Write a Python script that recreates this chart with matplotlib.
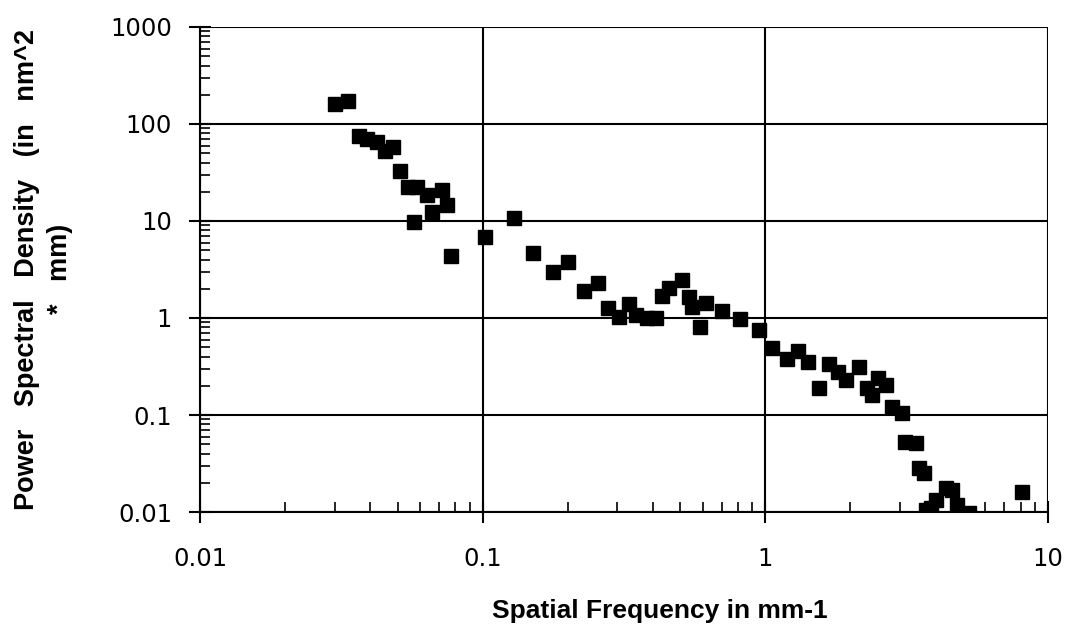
import matplotlib.pyplot as plt
from matplotlib.ticker import LogLocator, FixedLocator, NullFormatter

# spatial frequency (mm^-1) and PSD (nm^2 * mm)
freq = [0.0300, 0.0334, 0.0365, 0.0389, 0.0422, 0.0451, 0.0481, 0.0509,
        0.0543, 0.0585, 0.0634, 0.0716, 0.0746, 0.0661, 0.0570, 0.0771,
        0.1017, 0.129, 0.151, 0.177, 0.201, 0.229, 0.255, 0.277,
        0.303, 0.330, 0.350, 0.383, 0.412, 0.430, 0.458, 0.509,
        0.538, 0.552, 0.589, 0.619, 0.705, 0.817, 0.953, 1.06,
        1.19, 1.30, 1.42, 1.55, 1.68, 1.81, 1.93, 2.15,
        2.29, 2.39, 2.51, 2.68, 2.81, 3.05, 3.13, 3.42,
        3.50, 3.65, 4.02, 4.36, 4.58, 3.86, 3.71, 4.77,
        5.26, 8.09]
psd = [161, 173, 75, 70, 65, 53, 58, 32.7,
       22.4, 22.4, 18.5, 20.9, 14.6, 12.4, 9.8, 4.36,
       6.84, 10.7, 4.68, 2.98, 3.78, 1.90, 2.29, 1.27,
       1.02, 1.39, 1.07, 1.01, 1.01, 1.69, 2.04, 2.47,
       1.65, 1.30, 0.81, 1.43, 1.18, 0.977, 0.752, 0.491,
       0.378, 0.457, 0.352, 0.190, 0.336, 0.277, 0.230, 0.313,
       0.190, 0.161, 0.240, 0.204, 0.121, 0.105, 0.0527, 0.0514,
       0.0284, 0.0252, 0.0133, 0.0177, 0.0169, 0.0110, 0.0105, 0.0118,
       0.0098, 0.0161]

x_ticks = [0.01, 0.1, 1, 10]
x_labels = ['0.01', '0.1', '1', '10']
y_ticks = [0.01, 0.1, 1, 10, 100, 1000]
y_labels = ['0.01', '0.1', '1', '10', '100', '1000']

plt.rcParams['font.family'] = ['Liberation Sans', 'DejaVu Sans']

fig = plt.figure(figsize=(10.71, 6.26), dpi=100)
ax = fig.add_axes([0.1867, 0.1821, 0.7918, 0.7748])

ax.plot(freq, psd, 's', color='black', markersize=10.5, zorder=3)

ax.set_xscale('log')
ax.set_yscale('log')
ax.set_xlim(0.01, 10)
ax.set_ylim(0.01, 1000)

ax.xaxis.set_major_locator(FixedLocator(x_ticks))
ax.yaxis.set_major_locator(FixedLocator(y_ticks))
ax.set_xticklabels(x_labels, family=['DejaVu Sans'], fontsize=17.5)
ax.set_yticklabels(y_labels, family=['DejaVu Sans'], fontsize=17.5)
ax.xaxis.set_minor_locator(LogLocator(base=10, subs=range(2, 10), numticks=20))
ax.yaxis.set_minor_locator(LogLocator(base=10, subs=range(2, 10), numticks=20))
ax.xaxis.set_minor_formatter(NullFormatter())
ax.yaxis.set_minor_formatter(NullFormatter())

ax.grid(True, which='major', color='black', linewidth=1.5)
for s in ax.spines.values():
    s.set_linewidth(1.5)
ax.spines['top'].set_visible(False)
ax.spines['right'].set_visible(False)

ax.tick_params(which='major', direction='inout', length=16, width=1.5,
               color='black')
ax.tick_params(axis='x', which='major', pad=17)
ax.tick_params(axis='y', which='major', pad=12)
ax.tick_params(which='minor', direction='in', length=7, width=1.2)

fig.text(0.616, 0.0128, 'Spatial Frequency in mm-1', ha='center',
         va='baseline', fontsize=19, fontweight='bold')
fig.text(0.041, 0.57, 'Power   Spectral   Density   (in   nm^2\n*   mm)',
         rotation=90, ha='center', va='center', fontsize=19.5,
         fontweight='bold', linespacing=1.35, multialignment='center')

fig.savefig('out.png', dpi=100)
